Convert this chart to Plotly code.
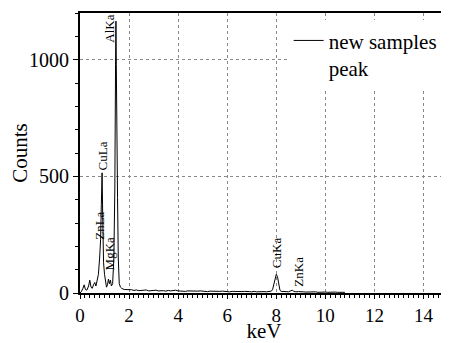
import plotly.graph_objects as go

# Spectrum (keV, counts)
energy = [0.00, 0.05, 0.12, 0.17, 0.22, 0.28, 0.35, 0.40, 0.45, 0.50, 0.55, 0.60, 0.65, 0.70,
          0.75, 0.80, 0.84, 0.87, 0.90, 0.93, 0.96, 1.00, 1.04, 1.08, 1.12, 1.16, 1.20, 1.24,
          1.28, 1.33, 1.38, 1.42, 1.45, 1.465, 1.48, 1.50, 1.53, 1.56, 1.60, 1.65, 1.70, 1.80,
          1.9, 2.0, 2.1, 2.2, 2.3, 2.4, 2.5, 2.6, 2.7, 2.8, 2.9, 3.0, 3.1, 3.2, 3.3, 3.4, 3.5,
          3.6, 3.7, 3.8, 3.9, 4.0, 4.1, 4.2, 4.3, 4.4, 4.5, 4.6, 4.7, 4.8, 4.9, 5.0, 5.1, 5.2,
          5.3, 5.4, 5.5, 5.6, 5.7, 5.8, 5.9, 6.0, 6.1, 6.2, 6.3, 6.4, 6.5, 6.6, 6.7, 6.8, 6.9,
          7.0, 7.1, 7.2, 7.3, 7.4, 7.5, 7.6, 7.7, 7.8, 7.85, 7.9, 7.95, 8.0, 8.05, 8.1, 8.15,
          8.2, 8.3, 8.4, 8.5, 8.6, 8.65, 8.7, 8.8, 8.9, 9.0, 9.1, 9.2, 9.3, 9.4, 9.5, 9.6, 9.7,
          9.8, 9.9, 10.0, 10.1, 10.2, 10.3, 10.4, 10.5, 10.6, 10.7, 10.8]
counts = [0, 5, 20, 35, 15, 12, 30, 55, 25, 20, 35, 45, 30, 50,
          80, 150, 230, 380, 515, 300, 130, 80, 45, 25, 35, 60, 40, 55,
          30, 40, 150, 450, 990, 1165, 980, 420, 410, 150, 40, 25, 20, 15,
          15, 12, 14, 11, 13, 10, 12, 11, 13, 9, 11, 10, 12, 9, 11, 10, 8,
          11, 9, 10, 12, 9, 8, 10, 7, 9, 8, 10, 7, 8, 9, 7, 8, 6,
          8, 7, 9, 6, 7, 8, 6, 7, 5, 7, 6, 8, 5, 6, 7, 5, 6,
          5, 7, 5, 6, 5, 6, 5, 7, 8, 15, 35, 60, 80, 70, 35, 12,
          7, 5, 6, 5, 9, 12, 8, 5, 6, 4, 5, 4, 5, 3, 4, 5, 3,
          4, 5, 4, 3, 4, 3, 4, 3, 4, 2, 3]

# Peak labels: text, x (keV), bottom of label (counts)
peak_names = ["AlKa", "CuLa", "ZnLa", "MgKa", "CuKa", "ZnKa"]
peak_x = [1.22, 0.90, 0.81, 1.22, 8.02, 8.87]
peak_y = [1064, 515, 219, 90, 99, 17]

x_ticks = [0, 2, 4, 6, 8, 10, 12, 14]
y_ticks = [0, 500, 1000]

FONT = "Liberation Serif, Times New Roman, serif"

fig = go.Figure()
fig.add_trace(go.Scatter(x=energy, y=counts, mode="lines",
                         line=dict(color="black", width=1),
                         name="new samples<br>peak"))

for name, px, py in zip(peak_names, peak_x, peak_y):
    fig.add_annotation(x=px, y=py, text=name, textangle=-90, showarrow=False,
                       xanchor="center", yanchor="bottom",
                       font=dict(family=FONT, size=13, color="black"))

# page body has an 8px default margin, so the figure is sized/offset to compensate
fig.update_layout(
    width=441, height=335,
    margin=dict(l=72, r=1, t=5, b=50, autoexpand=False),
    paper_bgcolor="white", plot_bgcolor="white",
    font=dict(family=FONT, color="black", size=20),
    showlegend=True,
    legend=dict(x=0.567, y=0.974, xanchor="left", yanchor="top",
                bgcolor="white", borderwidth=0, valign="top",
                font=dict(family=FONT, size=21, color="black")),
)
fig.update_xaxes(range=[0, 15], tickvals=x_ticks, ticktext=[str(v) for v in x_ticks],
                 showline=True, linecolor="black", linewidth=2, mirror=True,
                 ticks="outside", ticklen=4, tickcolor="black", tickwidth=1,
                 minor=dict(dtick=0.2, ticks="outside", ticklen=3, tickcolor="black", showgrid=False),
                 showgrid=True, gridcolor="#888", gridwidth=1, griddash="3px,3px",
                 zeroline=False, automargin=False,
                 tickfont=dict(family=FONT, size=19, color="black"),
                 title=dict(text="keV", font=dict(family=FONT, size=21, color="black"), standoff=4))
fig.update_yaxes(range=[0, 1200], tickvals=y_ticks, ticktext=[str(v) for v in y_ticks],
                 showline=True, linecolor="black", linewidth=2, mirror=True,
                 ticks="outside", ticklen=5, tickcolor="black", tickwidth=1,
                 minor=dict(dtick=100, ticks="outside", ticklen=3, tickcolor="black", showgrid=False),
                 showgrid=True, gridcolor="#888", gridwidth=1, griddash="3px,3px",
                 zeroline=False, automargin=False,
                 tickfont=dict(family=FONT, size=20, color="black"),
                 title=dict(text="Counts", font=dict(family=FONT, size=21, color="black"), standoff=16))

fig.write_html("out.html")
